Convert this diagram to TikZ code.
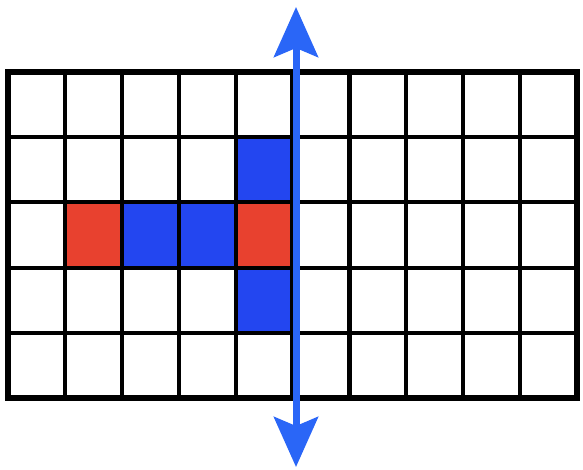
\documentclass[tikz,border=0pt]{standalone}
\usetikzlibrary{arrows.meta}
\definecolor{cellred}{HTML}{E8412F}
\definecolor{cellblue}{HTML}{2346F0}
\definecolor{arrowblue}{HTML}{2A66F7}
\tikzset{
  gridline/.style={line width=4.2pt, black},
  border/.style={line width=5.5pt, black},
  redcell/.style={fill=cellred},
  bluecell/.style={fill=cellblue},
  axis/.style={line width=7pt, arrowblue, {Stealth[length=50pt,width=44pt,inset=9pt]}-{Stealth[length=50pt,width=44pt,inset=9pt]}}
}
\begin{document}
\begin{tikzpicture}[x=1pt,y=-1pt]
\useasboundingbox (0,0) rectangle (583,470);
\def\xo{8}\def\yo{72}\def\cw{56.9}\def\ch{65.2}
% colored cells: (col,row) zero-based
\foreach \c/\r in {4/1,2/2,3/2,4/3}
  \fill[bluecell] (\xo+\c*\cw,\yo+\r*\ch) rectangle ++(\cw,\ch);
\foreach \c/\r in {1/2,4/2}
  \fill[redcell] (\xo+\c*\cw,\yo+\r*\ch) rectangle ++(\cw,\ch);
% grid
\foreach \i in {1,...,9}
  \draw[gridline] (\xo+\i*\cw,\yo) -- (\xo+\i*\cw,\yo+5*\ch);
\foreach \j in {1,...,4}
  \draw[gridline] (\xo,\yo+\j*\ch) -- (\xo+10*\cw,\yo+\j*\ch);
\draw[border] (\xo,\yo) rectangle (\xo+10*\cw,\yo+5*\ch);
% axis arrow
\coordinate (top) at (296,7);
\coordinate (bot) at (296,467);
\draw[axis] (bot) -- (top);
\end{tikzpicture}
\end{document}
